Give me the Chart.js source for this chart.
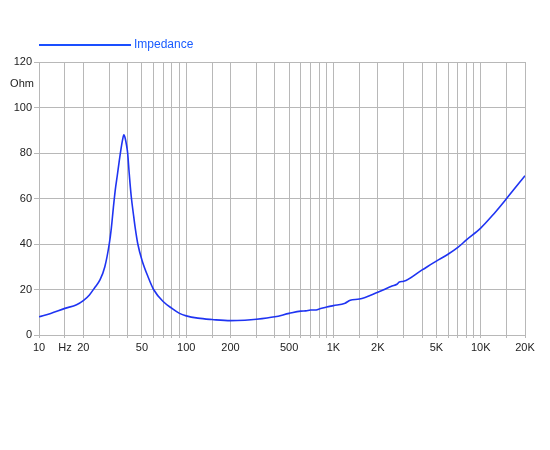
<!DOCTYPE html>
<html>
<head>
<meta charset="utf-8">
<script src="https://cdn.jsdelivr.net/npm/chart.js@4"></script>
<style>
  html, body { margin: 0; padding: 0; background: #fff; }
  #wrap { width: 550px; height: 450px; }
</style>
</head>
<body>
<div id="wrap"><canvas id="js_impChart" width="550" height="450"></canvas></div>
<script>
const freqs = [10, 12, 15, 18, 20, 22, 24, 26, 28, 30, 31, 32, 33, 34, 35, 36, 37, 37.7, 38.5, 39.3,
  40, 41, 42.3, 44, 45, 46.9, 50, 55, 60, 70, 80, 90, 100, 120, 150, 200, 250, 300, 400, 500,
  600, 650, 700, 750, 800, 900, 1000, 1200, 1300, 1500, 2000, 2500, 2700, 2800, 3000, 4000, 5000,
  6000, 7000, 8000, 10000, 12000, 15000, 20000];
const impedance = [8, 9.5, 11.7, 13.3, 15.1, 17.6, 21, 24.3, 30, 40, 47, 56, 64, 70, 76, 81.5, 86, 88, 86.5, 83.5,
  80, 71, 61, 52, 47.2, 40, 33, 25.6, 20, 14.6, 11.7, 9.5, 8.4, 7.4, 6.8, 6.3, 6.5, 6.9, 8, 9.5,
  10.5, 10.6, 11, 11, 11.4, 12.3, 12.9, 14, 15.3, 15.8, 18.8, 21.5, 22.3, 23.3, 23.6, 28.6, 32.5,
  35.5, 38.5, 41.8, 47, 52.5, 60, 70];

// grid lines on the frequency axis and the labels shown under them
const gridFreqs = [10, 15, 20, 30, 40, 50, 60, 70, 80, 90, 100, 150, 200, 300, 400, 500, 600, 700, 800, 900,
  1000, 1500, 2000, 3000, 4000, 5000, 6000, 7000, 8000, 9000, 10000, 15000, 20000];
const freqLabels = {
  10: '10', 15: 'Hz', 20: '20', 50: '50', 100: '100', 200: '200', 500: '500',
  1000: '1K', 2000: '2K', 5000: '5K', 10000: '10K', 20000: '20K',
};
const ohmTicks = [0, 20, 40, 60, 80, 100, 120];

const lineColor = '#1f34f2';
const gridColor = '#b8b8b8';
const textColor = '#222';
const tickFont = { family: 'Liberation Sans, Arial, sans-serif', size: 11 };

const decorations = {
  id: 'decorations',
  afterDraw: (chart) => {
    const c = chart.ctx;
    c.save();
    // legend
    c.strokeStyle = '#1a4fff';
    c.lineWidth = 2;
    c.beginPath();
    c.moveTo(39, 45);
    c.lineTo(131, 45);
    c.stroke();
    c.fillStyle = '#1a5cff';
    c.font = '12px Liberation Sans, Arial, sans-serif';
    c.textBaseline = 'middle';
    c.textAlign = 'left';
    c.fillText('Impedance', 134, 45);
    // unit label
    c.fillStyle = textColor;
    c.font = '11px Liberation Sans, Arial, sans-serif';
    c.textAlign = 'center';
    c.fillText('Ohm', 22, 84);
    c.restore();
  },
};

document.addEventListener('DOMContentLoaded', () => {
  const ctx = document.getElementById('js_impChart');

  new Chart(ctx, {
    type: 'line',
    data: {
      datasets: [{
        label: 'Impedance',
        data: freqs.map((f, i) => ({ x: f, y: impedance[i] })),
        borderColor: lineColor,
        borderWidth: 1.6,
        pointRadius: 0,
        fill: false,
        cubicInterpolationMode: 'monotone',
      }],
    },
    options: {
      responsive: false,
      animation: false,
      layout: { padding: { top: 62, right: 25, left: 0, bottom: 0 } },
      plugins: {
        legend: { display: false },
        tooltip: { enabled: false },
      },
      scales: {
        x: {
          type: 'logarithmic',
          min: 10,
          max: 20000,
          afterBuildTicks: (axis) => {
            axis.ticks = gridFreqs.map(v => ({ value: v }));
          },
          afterFit: (scale) => { scale.height = 115; },
          grid: { color: gridColor, lineWidth: 1, tickLength: 3 },
          border: { color: gridColor },
          ticks: {
            autoSkip: false,
            maxRotation: 0,
            padding: 3,
            color: textColor,
            font: tickFont,
            callback: v => freqLabels[v] || '',
          },
        },
        y: {
          min: 0,
          max: 120,
          afterBuildTicks: (axis) => {
            axis.ticks = ohmTicks.map(v => ({ value: v }));
          },
          afterFit: (scale) => { scale.width = 39; },
          grid: { color: gridColor, lineWidth: 1, tickLength: 5 },
          border: { color: gridColor },
          ticks: {
            padding: 2,
            color: textColor,
            font: tickFont,
          },
        },
      },
    },
    plugins: [decorations],
  });
});
</script>
</body>
</html>
